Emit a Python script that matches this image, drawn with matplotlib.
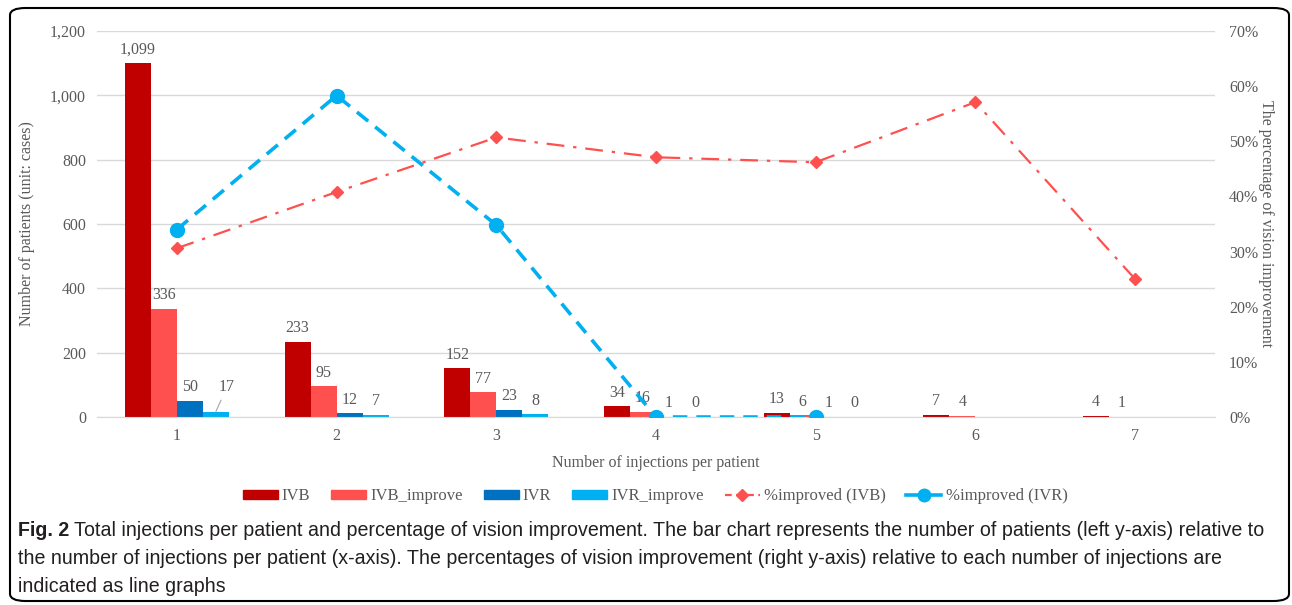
import numpy as np
import matplotlib
matplotlib.use("Agg")
import matplotlib.pyplot as plt
from matplotlib.patches import FancyBboxPatch
from matplotlib.lines import Line2D
from matplotlib.patches import Patch
from matplotlib.ticker import FuncFormatter

categories = [1, 2, 3, 4, 5, 6, 7]
ivb = [1099, 233, 152, 34, 13, 7, 4]
ivb_improve = [336, 95, 77, 16, 6, 4, 1]
ivr = [50, 12, 23, 1, 1, None, None]
ivr_improve = [17, 7, 8, 0, 0, None, None]
pct_ivb = [30.6, 40.8, 50.7, 47.1, 46.2, 57.1, 25.0]
pct_ivr = [34.0, 58.3, 34.8, 0.0, 0.0, None, None]

series_names = ["IVB", "IVB_improve", "IVR", "IVR_improve"]
colors = ["#C00000", "#FF5050", "#0070C0", "#00B0F0"]

W, H = 1292, 605
fig = plt.figure(figsize=(W / 100, H / 100), dpi=100)
serif = "Liberation Serif"
gray = "#595959"

ax = fig.add_axes([97 / W, 1 - 417 / H, (1215 - 97) / W, (417 - 31) / H])
ax2 = ax.twinx()

x = np.array(categories, dtype=float)
bw = 0.163
offsets = np.array([-1.5, -0.5, 0.5, 1.5]) * bw
data = [ivb, ivb_improve, ivr, ivr_improve]
for s, (vals, col, off) in enumerate(zip(data, colors, offsets)):
    for xi, v in zip(x, vals):
        if v is None:
            continue
        ax.bar(xi + off, v, width=bw, color=col, zorder=2)
        if s == 3 and xi == 1:
            ax.annotate(f"{v:,}", xy=(xi + off, v), xytext=(8, 12), textcoords="offset points",
                        ha="center", va="bottom", fontsize=11.5, family=serif, color=gray,
                        arrowprops=dict(arrowstyle="-", color="#A6A6A6", lw=0.8,
                                        shrinkA=2, shrinkB=0))
        else:
            ax.annotate(f"{v:,}", xy=(xi + off, v), xytext=(0, 4), textcoords="offset points",
                        ha="center", va="bottom", fontsize=11.5, family=serif, color=gray)

ax.set_xlim(0.5, 7.5)
ax.set_ylim(0, 1200)
ax.set_yticks(range(0, 1201, 200))
ax.yaxis.set_major_formatter(FuncFormatter(lambda v, p: f"{int(v):,}"))
ax.set_xticks(categories)
ax.grid(axis="y", color="#D9D9D9", lw=1, zorder=0)
ax.set_axisbelow(True)
for sp in ["top", "left", "right"]:
    ax.spines[sp].set_visible(False)
    ax2.spines[sp].set_visible(False)
ax2.spines["bottom"].set_visible(False)
ax.spines["bottom"].set_color("#D9D9D9")
ax.tick_params(axis="both", length=0, labelsize=11.5, labelcolor=gray, pad=8)
for lab in ax.get_xticklabels() + ax.get_yticklabels():
    lab.set_family(serif)

ax2.set_ylim(0, 70)
ax2.set_yticks(range(0, 71, 10))
ax2.yaxis.set_major_formatter(FuncFormatter(lambda v, p: f"{int(v)}%"))
ax2.tick_params(axis="y", length=0, labelsize=11.5, labelcolor=gray, pad=10)
for lab in ax2.get_yticklabels():
    lab.set_family(serif)

ax2.plot(x, pct_ivb, color="#FF5050", lw=1.6, ls=(0, (8, 4, 1.5, 4)), marker="D",
         markersize=6.5, zorder=3)
ivr_x = [xi for xi, v in zip(x, pct_ivr) if v is not None]
ivr_y = [v for v in pct_ivr if v is not None]
ax2.plot(ivr_x, ivr_y, color="#00B0F0", lw=2.6, ls=(0, (4, 2.5)), marker="o",
         markersize=10, zorder=4)

ax.set_ylabel("Number of patients (unit: cases)", family=serif, fontsize=11.5, color=gray)
ax.yaxis.set_label_coords((35 - 97) / 1118, 0.5)
ax2.set_ylabel("The percentage of vision improvement", family=serif, fontsize=11.5, color=gray,
               rotation=270, va="center", ha="center")
ax2.yaxis.set_label_coords((1266 - 97) / 1118, 0.5)
ax.set_xlabel("Number of injections per patient", family=serif, fontsize=11.5, color=gray, labelpad=8)

handles = [Patch(color=c, label=n) for c, n in zip(colors, series_names)]
handles += [Line2D([], [], color="#FF5050", lw=1.6, ls=(0, (3, 2)), marker="D", markersize=6,
                   label="%improved (IVB)"),
            Line2D([], [], color="#00B0F0", lw=2.6, ls="-", marker="o", markersize=9,
                   label="%improved (IVR)")]
leg = fig.legend(handles=handles, loc="center", bbox_to_anchor=(655 / W, 1 - 496 / H), ncol=6,
                 frameon=False, prop={"family": serif, "size": 12}, handlelength=2.1,
                 handleheight=0.45, columnspacing=1.25, handletextpad=0.25)
for t in leg.get_texts():
    t.set_color(gray)

# border
box = FancyBboxPatch((10 / W, 4 / H), (1289 - 10) / W, (597 - 4) / H,
                     boxstyle="round,pad=0,rounding_size=0.012", transform=fig.transFigure,
                     fill=False, ec="black", lw=1.5)
fig.patches.append(box)

cap_font = ["Liberation Sans", "DejaVu Sans"]
cap_color = "#231F20"
lines = [
    "Total injections per patient and percentage of vision improvement. The bar chart represents the number of patients (left y-axis) relative to",
    "the number of injections per patient (x-axis). The percentages of vision improvement (right y-axis) relative to each number of injections are",
    "indicated as line graphs",
]
ys = [531, 558, 586]
target_right = 1266
fig.canvas.draw()
r = fig.canvas.get_renderer()
b = fig.text(18 / W, 1 - ys[0] / H, "Fig. 2", family=cap_font, fontsize=13, weight="bold",
             va="center", color=cap_color)
t0 = fig.text(0, 1 - ys[0] / H, lines[0], family=cap_font, fontsize=13, va="center", color=cap_color)
others = [fig.text(18 / W, 1 - yy / H, ln, family=cap_font, fontsize=13, va="center", color=cap_color)
          for ln, yy in zip(lines[1:], ys[1:])]
# fit font size so the first caption line spans the same width as in the reference
size = 13.0
for _ in range(3):
    bb = b.get_window_extent(renderer=r)
    w0 = t0.get_window_extent(renderer=r).width
    total = (bb.x1 + 5 - 18) + w0
    size = size * (target_right - 18) / total
    for t in [b, t0] + others:
        t.set_fontsize(size)
bb = b.get_window_extent(renderer=r)
t0.set_x((bb.x1 + 5) / W)

fig.savefig("out.png", dpi=100)
